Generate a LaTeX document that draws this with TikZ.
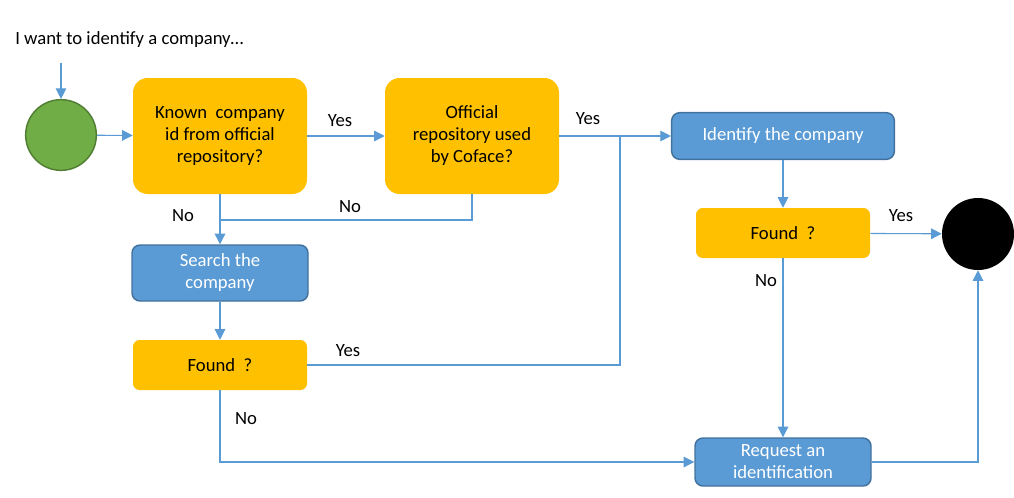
\documentclass[tikz,border=0pt]{standalone}
\usepackage{fontspec}
\setmainfont{Carlito}
\usetikzlibrary{arrows.meta}

\definecolor{boxyellow}{HTML}{FFC000}
\definecolor{boxblue}{HTML}{5B9BD5}
\definecolor{boxedge}{HTML}{41719C}
\definecolor{lineblue}{HTML}{5B9BD5}
\definecolor{startgreen}{HTML}{70AD47}
\definecolor{startedge}{HTML}{507E32}

\tikzset{
  flow/.style={draw=lineblue, line width=0.8pt, -{Triangle[length=8pt,width=8pt]}},
  plain/.style={draw=lineblue, line width=0.8pt},
  question/.style={fill=boxyellow, rounded corners=11pt, minimum width=130.5pt, minimum height=87pt, align=center},
  found/.style={fill=boxyellow, rounded corners=5pt, minimum width=130.5pt, minimum height=37.5pt},
  action/.style={fill=boxblue, draw=boxedge, line width=1.1pt, rounded corners=6pt, text=white, align=center},
  answer/.style={inner sep=0pt}
}

\begin{document}
\begin{tikzpicture}[x=0.75pt, y=-0.75pt, font=\fontsize{14}{16.5}\selectfont]
  \useasboundingbox (0,0) rectangle (1014,497);

  \node (intro) at (15,40) [anchor=west, inner sep=0pt] {I want to identify a company…};
  \coordinate (in) at (61,63);

  \node (start) at (61,135) [circle, fill=startgreen, draw=startedge, line width=1.1pt, minimum size=53pt] {};
  \node (known) at (220,136) [question] {Known\ \ company\\id from official\\repository?};
  \node (official) at (472,136) [question] {Official\\repository used\\by Coface?};
  \node (identify) at (783,136) [action, minimum width=167pt, minimum height=35pt] {Identify the company};
  \node (search) at (220,273) [action, minimum width=132pt, minimum height=42pt] {Search the\\company};
  \node (found1) at (220,365) [found] {Found\ \ ?};
  \node (found2) at (783,233) [found] {Found\ \ ?};
  \node (stop) at (978,234) [circle, fill=black, minimum size=54pt] {};
  \node (request) at (783,462) [action, minimum width=132pt, minimum height=36pt] {Request an\\identification};

  \coordinate (join) at (620,136);
  \coordinate (merge) at (220,220);

  \draw[flow] (in) -- (start);
  \draw[flow] (start) -- (known);
  \draw[flow] (known) -- (official);
  \draw[plain] (official) -- (join);
  \draw[flow] (join) -- (identify);
  \draw[plain] (found1) -| (join);
  \draw[flow] (known) -- (search);
  \draw[plain] (official) |- (merge);
  \draw[flow] (search) -- (found1);
  \draw[flow] (identify) -- (found2);
  \draw[flow] (found2) -- (stop);
  \draw[flow] (found2) -- (request);
  \draw[flow] (found1) |- (request);
  \draw[flow] (request) -| (stop);

  \node (yes1) at (340,121) [answer] {Yes};
  \node (yes2) at (588,119) [answer] {Yes};
  \node (yes3) at (348,351) [answer] {Yes};
  \node (yes4) at (901,216) [answer] {Yes};
  \node (no1) at (183,216) [answer] {No};
  \node (no2) at (350,207) [answer] {No};
  \node (no3) at (246,419) [answer] {No};
  \node (no4) at (766,281) [answer] {No};
\end{tikzpicture}
\end{document}
